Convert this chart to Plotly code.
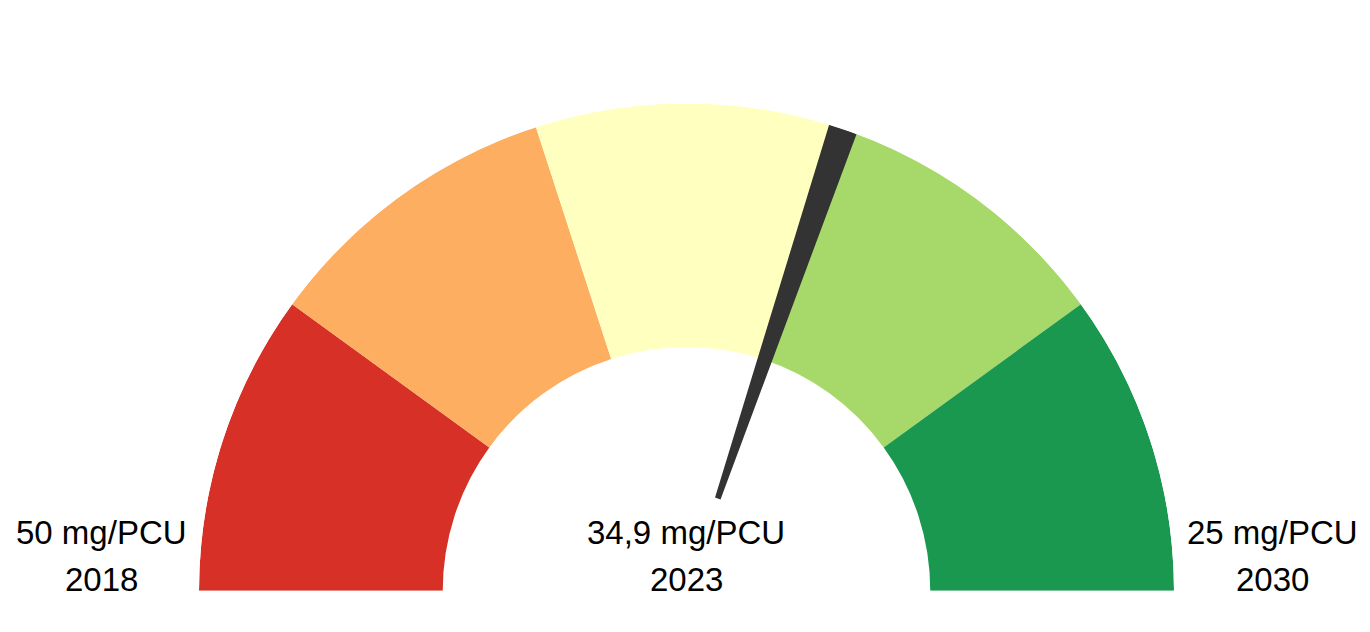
import plotly.graph_objects as go

# gauge scale (mg/PCU), left end to right end
scale_start = 50
scale_end = 25
band_edges = [50, 45, 40, 35, 30, 25]
band_colors = ["#d73027", "#fdae61", "#ffffbf", "#a6d96a", "#1a9850"]

current_value = 34.9
label_values = [50, 34.9, 25]
label_years = ["2018", "2023", "2030"]
label_units = "mg/PCU"

needle_color = "#333333"

W, H = 1370, 632
OFF = 8  # page offset of the plot div


def to_theta(v):
    # 50 -> 180 deg (left), 25 -> 0 deg (right)
    return (v - scale_end) / (scale_start - scale_end) * 180.0


def fmt(v):
    s = f"{v:g}".replace(".", ",")
    return f"{s} {label_units}"


def px_x(x):
    return (x - OFF) / W


def px_y(y):
    return (H - (y - OFF)) / H


def build_figure():
    starts = [to_theta(v) for v in band_edges[:-1]]
    ends = [to_theta(v) for v in band_edges[1:]]
    fig = go.Figure()
    fig.add_trace(
        go.Barpolar(
            theta=[(a + b) / 2 for a, b in zip(starts, ends)],
            width=[abs(a - b) for a, b in zip(starts, ends)],
            r=[0.5] * len(band_colors),
            base=0.5,
            marker=dict(color=band_colors, line=dict(width=0)),
            hoverinfo="skip",
        )
    )
    # needle
    fig.add_trace(
        go.Barpolar(
            theta=[to_theta(current_value)],
            width=[3.4],
            r=[0.8],
            base=0.2,
            marker=dict(color=needle_color, line=dict(width=0)),
            hoverinfo="skip",
        )
    )

    fig.update_layout(
        width=W,
        height=H,
        margin=dict(l=0, r=0, t=0, b=0),
        paper_bgcolor="white",
        showlegend=False,
        polar=dict(
            domain=dict(x=[px_x(199), px_x(1174)], y=[px_y(591), px_y(103)]),
            sector=[0, 180],
            bgcolor="white",
            bargap=0,
            radialaxis=dict(range=[0, 1], visible=False),
            angularaxis=dict(visible=False),
        ),
        font=dict(family="Liberation Sans, Arial, sans-serif", color="black"),
    )

    xs = [101, 686, 1272]
    for x, v, yr in zip(xs, label_values, label_years):
        fig.add_annotation(x=px_x(x), y=px_y(532), xref="paper", yref="paper",
                           text=fmt(v), showarrow=False, font=dict(size=33),
                           xanchor="center", yanchor="middle")
        fig.add_annotation(x=px_x(x), y=px_y(579), xref="paper", yref="paper",
                           text=yr, showarrow=False, font=dict(size=33),
                           xanchor="center", yanchor="middle")
    return fig


def main():
    fig = build_figure()
    fig.write_html("out.html")


if __name__ == "__main__":
    main()
